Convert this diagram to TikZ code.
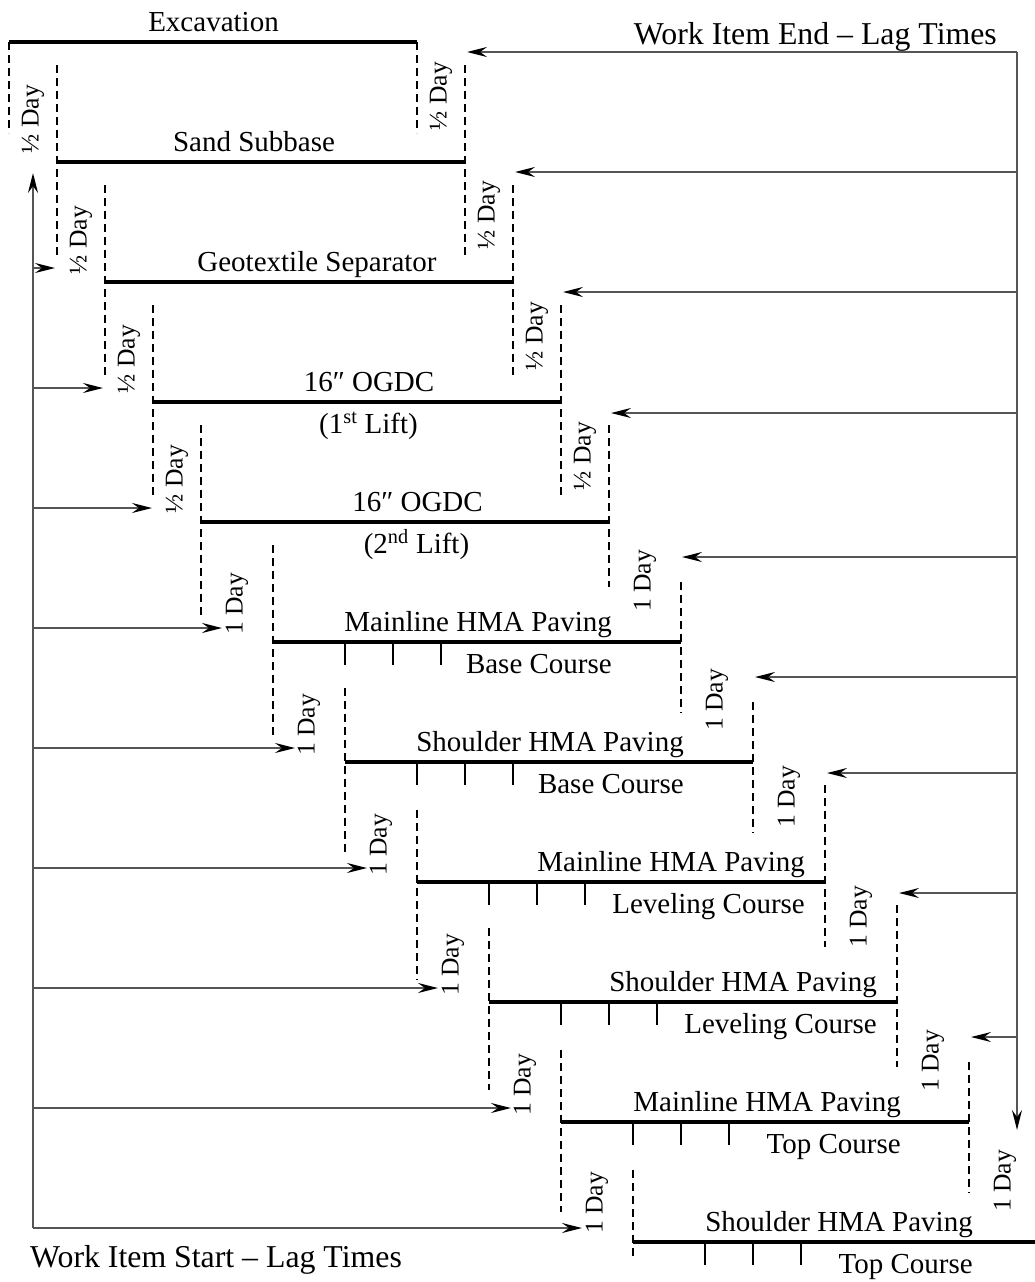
\documentclass[tikz,border=0pt]{standalone}
\usepackage{fontspec}
\setmainfont{Liberation Serif}
\usetikzlibrary{arrows.meta}
\definecolor{conncol}{RGB}{85,85,85}
\begin{document}
\begin{tikzpicture}[x=1pt,y=-1pt,
  barline/.style={line width=4pt,black},
  lagline/.style={line width=2pt,black,dash pattern=on 8pt off 5pt},
  tickline/.style={line width=2pt,black},
  conn/.style={line width=1.6pt,conncol,-{Stealth[length=20pt,width=10pt,inset=7pt,black]}},
  conninner/.style={line width=1.6pt,conncol},
  dayl/.style={rotate=90,inner sep=0pt,font=\fontsize{25.6}{28}\selectfont},
  ttl/.style={inner sep=0pt,anchor=base,font=\fontsize{29}{33}\selectfont},
  ttlr/.style={inner sep=0pt,anchor=base east,font=\fontsize{29}{33}\selectfont},
  hdr/.style={inner sep=0pt,font=\fontsize{31.8}{36}\selectfont}]
\useasboundingbox (0,0) rectangle (1034,1282);

% bars
\foreach \k/\xs in {1/9,2/57,3/105,4/153,5/201,6/273,7/345,8/417,9/489,10/561,11/633}{
  \pgfmathsetmacro\yy{42+120*(\k-1)}
  \coordinate (s\k) at (\xs,\yy);
  \coordinate (e\k) at (\xs+408,\yy);
  \draw[barline] (s\k) -- (e\k);
}
% ticks
\foreach \k in {6,...,11}{
  \foreach \d in {72,120,168}{
    \draw[tickline] ([xshift=\d pt]s\k) -- ++(0,23);
  }
}
% dashed lines at starts
\foreach \i/\x/\a/\b in {1/9/42/133,2/57/65/255,3/105/185/375,4/153/305/495,5/201/425/617,6/273/545/735,7/345/688/852,8/417/810/980,9/489/928/1090,10/561/1050/1212,11/633/1170/1260}{
  \coordinate (ds\i a) at (\x,\a);
  \coordinate (ds\i b) at (\x,\b);
  \draw[lagline] (ds\i a) -- (ds\i b);
}
% dashed lines at ends
\foreach \i/\x/\a/\b in {1/417/42/133,2/465/65/255,3/513/185/375,4/561/305/495,5/609/425/587,6/681/582/713,7/753/702/833,8/825/785/947,9/897/905/1067,10/969/1062/1193}{
  \coordinate (de\i a) at (\x,\a);
  \coordinate (de\i b) at (\x,\b);
  \draw[lagline] (de\i a) -- (de\i b);
}

% titles
\node[ttl] (t1) at (213.5,31) {Excavation};
\node[ttl] (t2) at (254,151) {Sand Subbase};
\node[ttl] (t3) at (317,271) {Geotextile Separator};
\node[ttl] (t4) at (369,391) {16″ OGDC};
\node[ttl] (c4) at (368.5,433) {(1\textsuperscript{st} Lift)};
\node[ttl] (t5) at (417.5,511) {16″ OGDC};
\node[ttl] (c5) at (416.5,553) {(2\textsuperscript{nd} Lift)};
\node[ttlr] (t6) at (612,631) {Mainline HMA Paving};
\node[ttlr] (c6) at (612,673) {Base Course};
\node[ttlr] (t7) at (684,751) {Shoulder HMA Paving};
\node[ttlr] (c7) at (684,793) {Base Course};
\node[ttlr] (t8) at (805,871) {Mainline HMA Paving};
\node[ttlr] (c8) at (805,913) {Leveling Course};
\node[ttlr] (t9) at (877,991) {Shoulder HMA Paving};
\node[ttlr] (c9) at (877,1033) {Leveling Course};
\node[ttlr] (t10) at (901,1111) {Mainline HMA Paving};
\node[ttlr] (c10) at (901,1153) {Top Course};
\node[ttlr] (t11) at (973,1231) {Shoulder HMA Paving};
\node[ttlr] (c11) at (973,1273) {Top Course};

% headers
\node[hdr,anchor=base east] (hend) at (997,44) {Work Item End – Lag Times};
\node[hdr,anchor=base west] (hstart) at (30,1267) {Work Item Start – Lag Times};

% start lag labels
\foreach \i/\x/\y/\t in {1/33/119/½,2/81/240/½,3/129/359/½,4/177/479/½,5/237/604/1,6/309/725/1,7/381/845/1,8/453/965/1,9/525/1085/1,10/597/1203/1}{
  \node[dayl] (ls\i) at (\x,\y) {\t{} Day};
}
% end lag labels
\foreach \i/\x/\y/\t in {1/441/96/½,2/489/215/½,3/537/336/½,4/585/456/½,5/645/581/1,6/717/700/1,7/789/797/1,8/861/917/1,9/933/1061/1,10/1005/1181/1}{
  \node[dayl] (le\i) at (\x,\y) {\t{} Day};
}

% left spine
\coordinate (LB) at (33,1228);
\coordinate (LT) at (33,173);
\draw[conn] (LB) -- (LT);
\foreach \i/\y/\x in {2/268/55,3/388/103,4/508/152,5/628/222,6/748/295,7/868/367,8/988/438,9/1108/511,10/1228/582}{
  \coordinate (la\i) at (33,\y);
  \coordinate (ta\i) at (\x,\y);
  \draw[conn] (la\i) -- (ta\i);
}

% right spine
\coordinate (RT) at (1017,52);
\coordinate (RB) at (1017,1130);
\draw[conn] (RT) -- (RB);
\foreach \i/\y/\x in {1/52/467,2/172/515,3/292/563,4/413/611,5/557/682,6/677/755,7/773/827,8/893/899,9/1037/971}{
  \coordinate (ra\i) at (1017,\y);
  \coordinate (rt\i) at (\x,\y);
  \draw[conn] (ra\i) -- (rt\i);
}
\end{tikzpicture}
\end{document}
